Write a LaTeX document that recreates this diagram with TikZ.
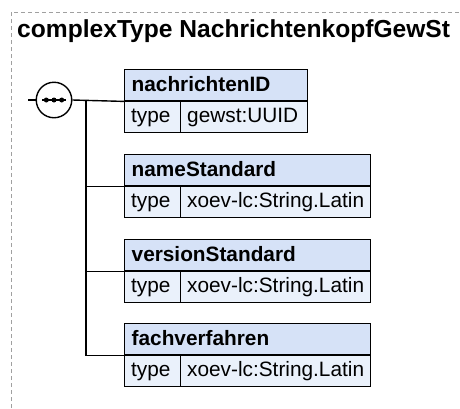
\documentclass[tikz,border=0pt]{standalone}
\usepackage{fontspec}
\setmainfont{Liberation Sans}
\definecolor{hdrfill}{RGB}{214,226,247}
\definecolor{typfill}{RGB}{234,241,251}
\definecolor{framegray}{RGB}{160,160,160}
\begin{document}
\begin{tikzpicture}[x=1pt,y=-1pt,
  frame/.style={draw=framegray, line width=1pt, dash pattern=on 4pt off 3pt},
  conn/.style={draw=black, line width=1.4pt},
  hdr/.style={draw=black, line width=1.4pt, fill=hdrfill, anchor=north west,
    inner xsep=7pt, inner ysep=0pt, minimum height=31pt, text height=16pt, text depth=4pt,
    align=left, font=\fontsize{20.8}{24}\selectfont\bfseries},
  cell/.style={draw=black, line width=1.4pt, fill=typfill, anchor=north west,
    inner xsep=6.5pt, inner ysep=0pt, minimum height=31.5pt, text height=15pt, text depth=4pt,
    align=left, font=\fontsize{20.8}{24}\selectfont},
  title/.style={anchor=base west, inner sep=0pt, font=\fontsize{24.6}{29}\selectfont\bfseries}
]
\useasboundingbox (0,0) rectangle (460,408);
\draw[frame] (11,408) -- (11,12) -- (460,12);
\node[title] (ttl) at (17,37) {complexType NachrichtenkopfGewSt};

% sequence compositor
\node[circle, draw=black, line width=1.4pt, fill=white, minimum size=35.5pt, inner sep=0pt] (seq) at (54,100) {};
\draw[line width=1.4pt] ([xshift=-11.7pt]seq.center) -- ([xshift=12.3pt]seq.center);
\fill ([xshift=-7.7pt]seq.center) circle (2.5pt);
\fill (seq.center) circle (2.5pt);
\fill ([xshift=7.7pt]seq.center) circle (2.5pt);
\coordinate (in) at (28,100);
\draw[conn] (in) -- (seq.west);

% element boxes
\node[hdr, text width=169pt] (h1) at (124,69) {nachrichtenID};
\node[cell, text width=43pt] (t1) at (124,100.5) {type};
\node[cell, text width=114pt] (v1) at (180,100.5) {gewst:UUID};

\node[hdr, text width=232pt] (h2) at (124,154) {nameStandard};
\node[cell, text width=43pt] (t2) at (124,185.5) {type};
\node[cell, text width=177pt] (v2) at (180,185.5) {xoev-lc:String.Latin};

\node[hdr, text width=232pt] (h3) at (124,239) {versionStandard};
\node[cell, text width=43pt] (t3) at (124,270.5) {type};
\node[cell, text width=177pt] (v3) at (180,270.5) {xoev-lc:String.Latin};

\node[hdr, text width=232pt] (h4) at (124,323) {fachverfahren};
\node[cell, text width=43pt] (t4) at (124,354.5) {type};
\node[cell, text width=177pt] (v4) at (180,354.5) {xoev-lc:String.Latin};

% connectors
\coordinate (j) at (86,100);
\draw[conn] (seq.east) -- (h1.south west);
\draw[conn] (j) |- (h4.south west);
\draw[conn] (j |- h2.south west) -- (h2.south west);
\draw[conn] (j |- h3.south west) -- (h3.south west);
\end{tikzpicture}
\end{document}
